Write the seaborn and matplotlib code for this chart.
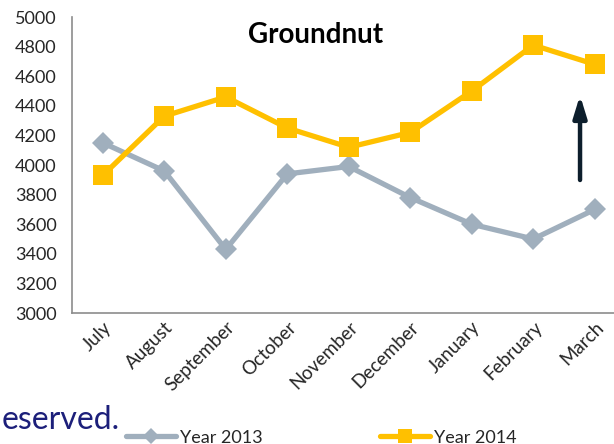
#line chart of groundnut prices, year 2013 vs year 2014
import pandas as pd
import matplotlib.pyplot as plt
import seaborn as sns

#data
months = ["July", "August", "September", "October", "November",
          "December", "January", "February", "March"]
year_2013 = [4150, 3960, 3430, 3940, 3990, 3780, 3600, 3500, 3700]
year_2014 = [3930, 4330, 4460, 4250, 4120, 4220, 4500, 4810, 4680]
y_ticks = list(range(3000, 5001, 200))

df = pd.DataFrame({"month": months, "Year 2013": year_2013, "Year 2014": year_2014})
pos = list(range(len(months)))

sns.set_style("white")
plt.rcParams["font.family"] = ["Lato", "DejaVu Sans"]

fig = plt.figure(figsize=(6.14, 4.44), dpi=100)
ax = fig.add_axes([0.1173, 0.295, 0.9015, 0.6667])

gray = "#a0afbd"
gold = "#ffc000"

sns.lineplot(x=pos, y=df["Year 2013"], ax=ax, color=gray, linewidth=3.8,
             marker="D", markersize=11, markeredgewidth=0, label="Year 2013")
sns.lineplot(x=pos, y=df["Year 2014"], ax=ax, color=gold, linewidth=3.8,
             marker="s", markersize=14, markeredgewidth=0, label="Year 2014")

#axes look
ax.set_xlim(-0.5, len(months) - 0.5)
ax.set_ylim(3000, 5000)
ax.set_yticks(y_ticks)
ax.set_xticks(pos)
ax.set_xticklabels(months, rotation=45, ha="right", rotation_mode="anchor")
ax.set_xticks([p - 0.5 for p in pos] + [len(months) - 0.5], minor=True)
ax.tick_params(axis="x", which="major", length=0, pad=4, labelsize=13.5)
ax.tick_params(axis="x", which="minor", length=5, color="#8c8c8c", width=1)
ax.tick_params(axis="y", length=5, color="#8c8c8c", width=1, labelsize=13, pad=6)
ax.set_xlabel("")
ax.set_ylabel("")
for side in ["top", "right"]:
    ax.spines[side].set_visible(False)
for side in ["left", "bottom"]:
    ax.spines[side].set_color("#8c8c8c")
    ax.spines[side].set_linewidth(1.2)

ax.text(3.46, 4880, "Groundnut", ha="center", va="center",
        fontsize=20, fontweight="bold", color="black")

#arrow pointing up at march
ax.annotate("", xy=(7.76, 4490), xytext=(7.76, 3880),
            arrowprops=dict(arrowstyle="-|>,head_width=0.4,head_length=1.3",
                            color="#0d1e2c", linewidth=3.2))

ax.get_legend().remove()
fig.legend(loc="lower left", bbox_to_anchor=(0.178, -0.04), ncol=2, frameon=False,
           handlelength=2.8, columnspacing=6.5, handletextpad=0.2, fontsize=13,
           markerscale=0.7)

fig.text(0.002, 0.02, "eserved.", fontsize=23, color="#1c1f7a", ha="left", va="bottom")

fig.savefig("out.png", dpi=100)
